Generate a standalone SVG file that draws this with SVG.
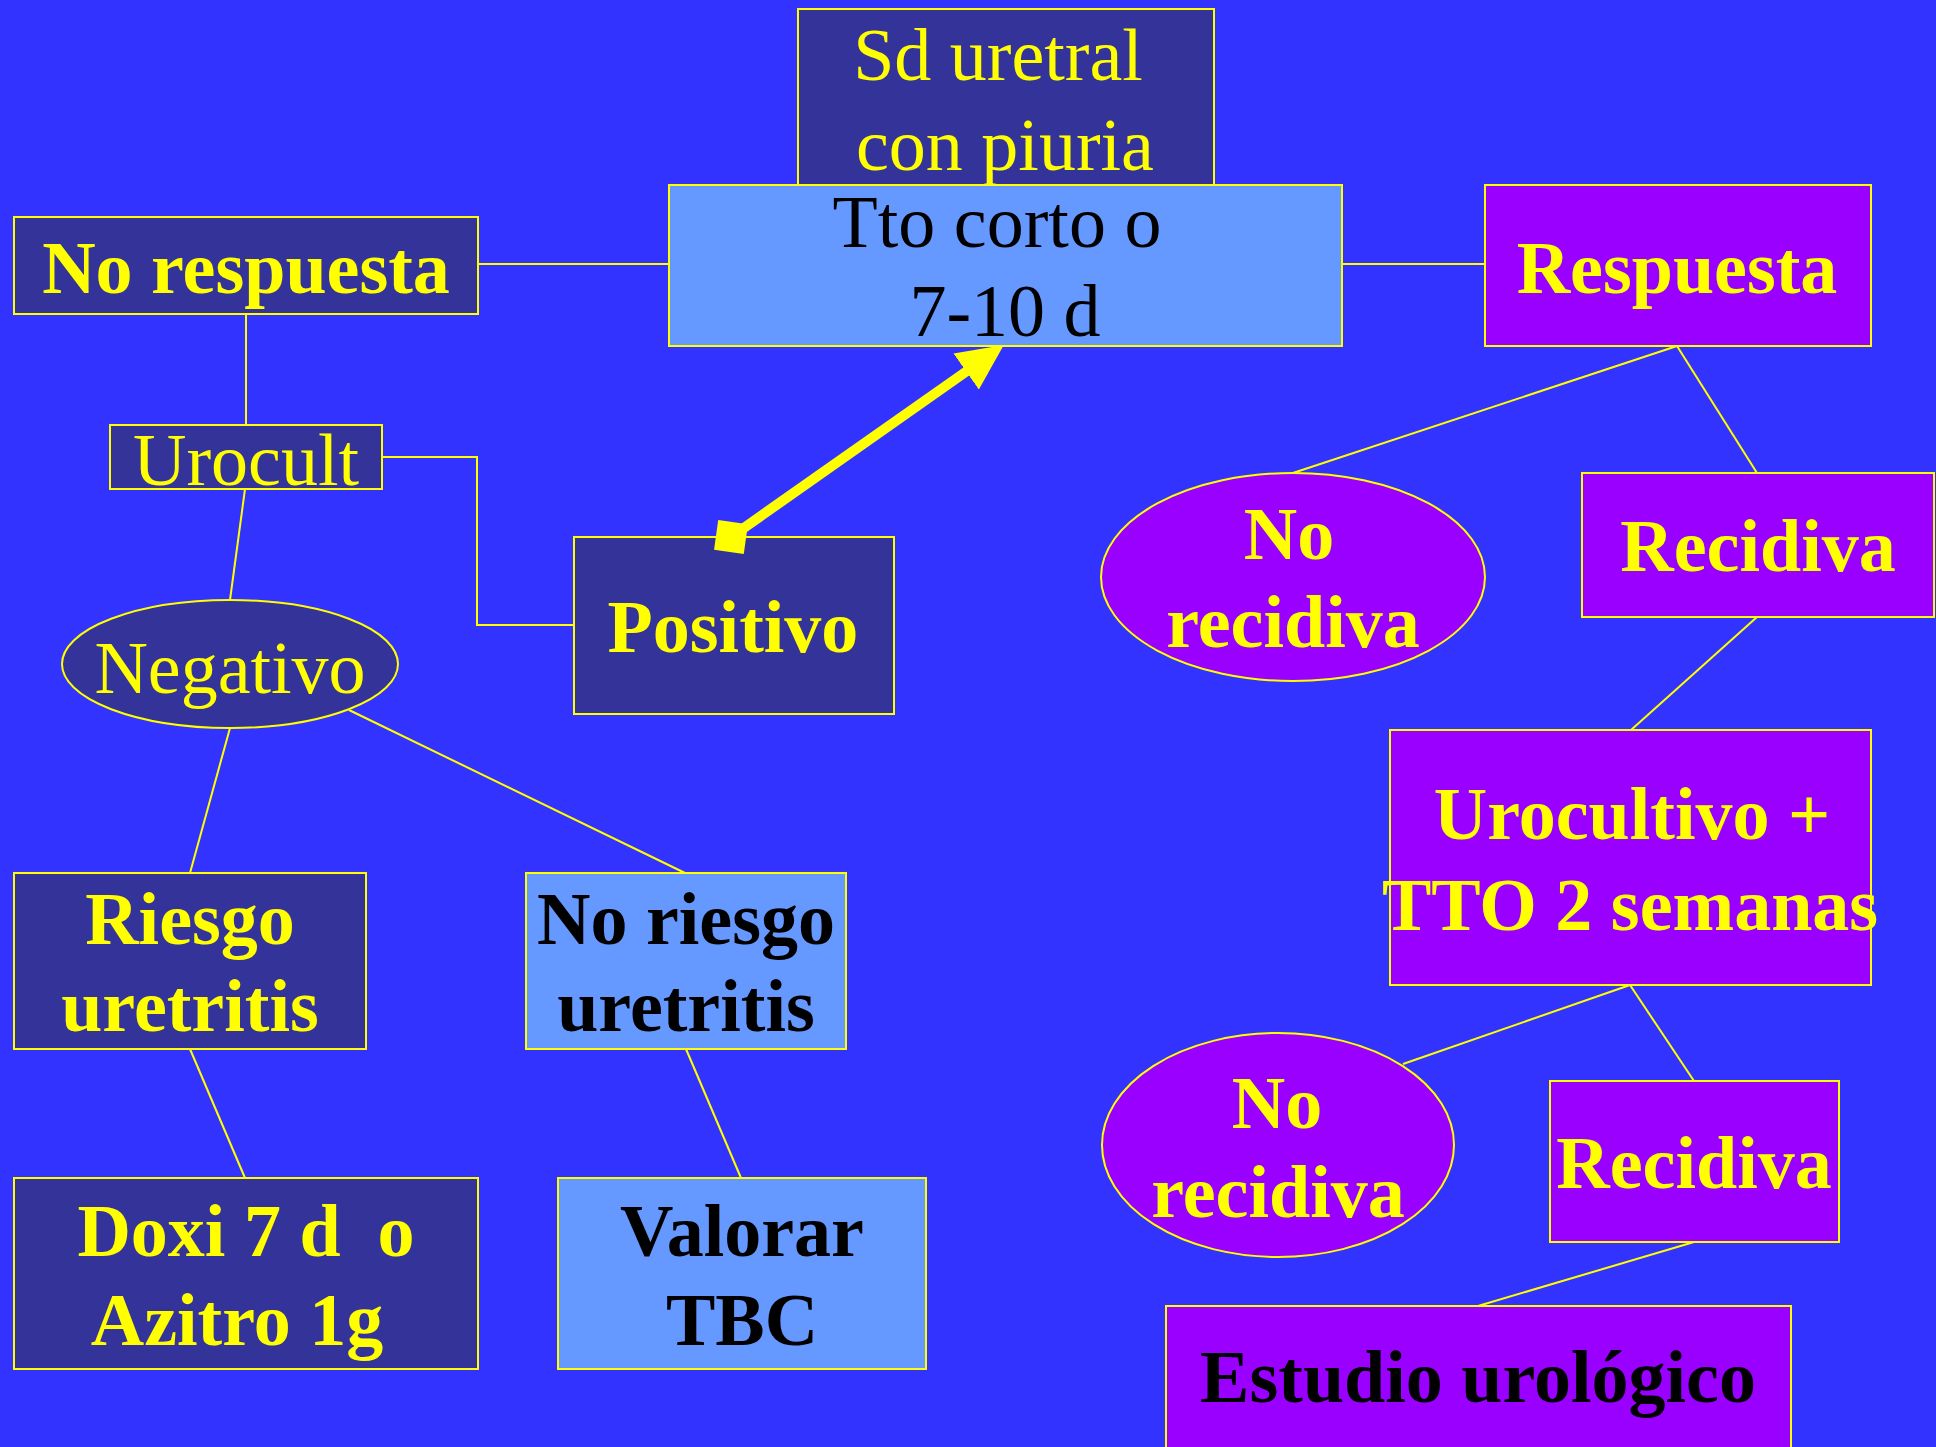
<svg xmlns="http://www.w3.org/2000/svg" width="1936" height="1447" viewBox="0 0 1936 1447">
<style>
.bg{fill:#3333FF}
.dk{fill:#333399;stroke:#FFFF00;stroke-width:2}
.lb{fill:#6699FF;stroke:#FFFF00;stroke-width:2}
.pu{fill:#9900FF;stroke:#FFFF00;stroke-width:2}
.cn{fill:none;stroke:#FFFF00;stroke-width:2}
text{font-family:"Liberation Serif","Times New Roman",serif;font-size:74px;text-anchor:middle}
.y{fill:#FFFF00}
.k{fill:#000000}
.b{font-weight:bold}
</style>
<defs>
<marker id="ah" markerUnits="userSpaceOnUse" markerWidth="46" markerHeight="46" viewBox="0 0 46 46" refX="1" refY="23" orient="auto">
<path d="M0,1 L46,23 L0,45 z" fill="#FFFF00"/>
</marker>
<marker id="sq" markerUnits="userSpaceOnUse" markerWidth="32" markerHeight="32" viewBox="0 0 32 32" refX="16" refY="16" orient="8">
<rect x="1" y="1" width="30" height="30" fill="#FFFF00"/>
</marker>
</defs>
<rect class="bg" x="0" y="0" width="1936" height="1447"/>

<g id="sd-uretral">
<rect class="dk" x="798" y="9" width="416" height="180"/>
<text class="y" x="998" y="80">Sd uretral</text>
<text class="y" x="1005" y="170">con piuria</text>
</g>

<g id="tto">
<rect class="lb" x="669" y="185" width="673" height="161"/>
<text class="k" x="997" y="247">Tto corto o</text>
<text class="k" x="1005" y="336">7-10 d</text>
</g>

<g id="no-respuesta">
<rect class="dk" x="14" y="217" width="464" height="97"/>
<text class="y b" x="246" y="293">No respuesta</text>
</g>

<g id="respuesta">
<rect class="pu" x="1485" y="185" width="386" height="161"/>
<text class="y b" x="1677" y="293">Respuesta</text>
</g>

<g id="urocult">
<rect class="dk" x="110" y="425" width="272" height="64"/>
<text class="y" x="246" y="485">Urocult</text>
</g>

<g id="positivo">
<rect class="dk" x="574" y="537" width="320" height="177"/>
<text class="y b" x="733" y="652">Positivo</text>
</g>

<g id="negativo">
<ellipse class="dk" cx="230" cy="664" rx="168" ry="64"/>
<text class="y" x="230" y="693">Negativo</text>
</g>

<g id="riesgo">
<rect class="dk" x="14" y="873" width="352" height="176"/>
<text class="y b" x="190" y="944">Riesgo</text>
<text class="y b" x="190" y="1031">uretritis</text>
</g>

<g id="no-riesgo">
<rect class="lb" x="526" y="873" width="320" height="176"/>
<text class="k b" x="686" y="944">No riesgo</text>
<text class="k b" x="686" y="1031">uretritis</text>
</g>

<g id="doxi">
<rect class="dk" x="14" y="1178" width="464" height="191"/>
<text class="y b" x="246" y="1256" xml:space="preserve">Doxi 7 d  o</text>
<text class="y b" x="237" y="1345">Azitro 1g</text>
</g>

<g id="valorar">
<rect class="lb" x="558" y="1178" width="368" height="191"/>
<text class="k b" x="742" y="1256">Valorar</text>
<text class="k b" x="742" y="1345">TBC</text>
</g>

<g id="no-recidiva-1">
<ellipse class="pu" cx="1293" cy="577" rx="192" ry="104"/>
<text class="y b" x="1289" y="559">No</text>
<text class="y b" x="1293" y="647">recidiva</text>
</g>

<g id="recidiva-1">
<rect class="pu" x="1582" y="473" width="352" height="144"/>
<text class="y b" x="1758" y="571">Recidiva</text>
</g>

<g id="urocultivo">
<rect class="pu" x="1390" y="730" width="481" height="255"/>
<text class="y b" x="1632" y="839">Urocultivo +</text>
<text class="y b" x="1630" y="930">TTO 2 semanas</text>
</g>

<g id="no-recidiva-2">
<ellipse class="pu" cx="1278" cy="1145" rx="176" ry="112"/>
<text class="y b" x="1277" y="1128">No</text>
<text class="y b" x="1278" y="1217">recidiva</text>
</g>

<g id="recidiva-2">
<rect class="pu" x="1550" y="1081" width="289" height="161"/>
<text class="y b" x="1694" y="1188">Recidiva</text>
</g>

<g id="estudio">
<rect class="pu" x="1166" y="1306" width="625" height="160"/>
<text class="k b" x="1478" y="1402">Estudio urológico</text>
</g>

<g id="connectors">
<line class="cn" x1="478" y1="264" x2="669" y2="264"/>
<line class="cn" x1="1342" y1="264" x2="1485" y2="264"/>
<line class="cn" x1="246" y1="314" x2="246" y2="425"/>
<polyline class="cn" points="382,457 477,457 477,625 574,625"/>
<line class="cn" x1="245" y1="489" x2="230" y2="600"/>
<line class="cn" x1="230" y1="728" x2="190" y2="873"/>
<line class="cn" x1="349" y1="710" x2="685" y2="873"/>
<line class="cn" x1="190" y1="1049" x2="245" y2="1178"/>
<line class="cn" x1="686" y1="1049" x2="741" y2="1178"/>
<line class="cn" x1="1677" y1="346" x2="1293" y2="473"/>
<line class="cn" x1="1677" y1="346" x2="1757" y2="473"/>
<line class="cn" x1="1757" y1="617" x2="1631" y2="730"/>
<line class="cn" x1="1630" y1="985" x2="1403" y2="1064"/>
<line class="cn" x1="1630" y1="985" x2="1694" y2="1081"/>
<line class="cn" x1="1694" y1="1242" x2="1478" y2="1306"/>
<line x1="731" y1="537" x2="967" y2="371" stroke="#FFFF00" stroke-width="10" marker-start="url(#sq)" marker-end="url(#ah)"/>
</g>
</svg>
